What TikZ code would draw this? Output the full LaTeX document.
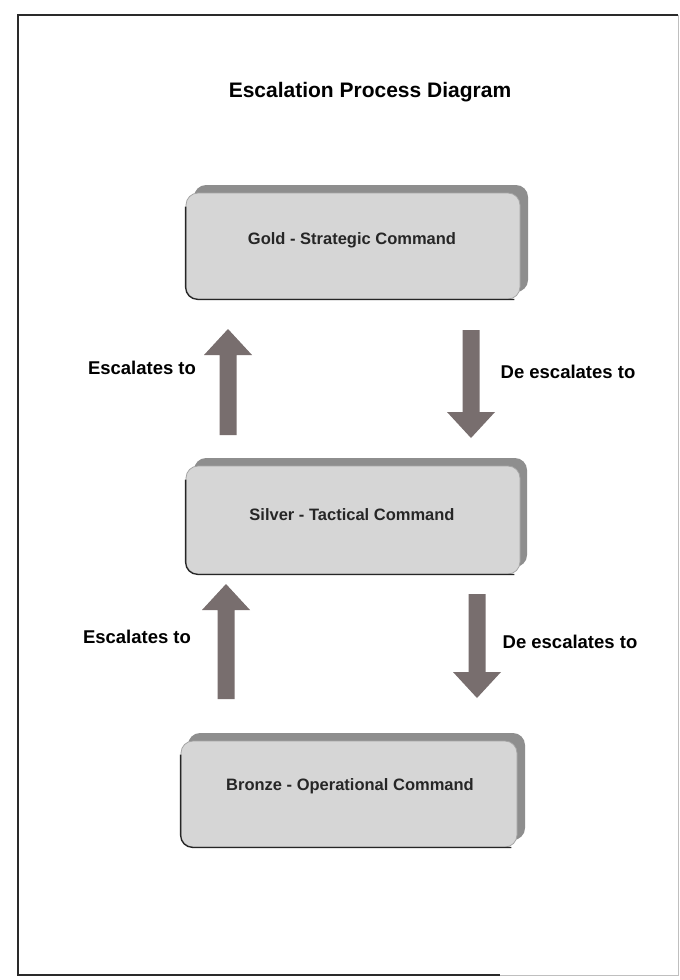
\documentclass[tikz,border=0pt]{standalone}
\usepackage{fontspec}
\setmainfont{Liberation Sans}
\usetikzlibrary{calc}
\definecolor{arrowcol}{HTML}{786E6E}
\definecolor{boxfill}{HTML}{D6D6D6}
\definecolor{boxrim}{HTML}{8E8E8E}
\definecolor{framecol}{HTML}{2A2A2A}
\tikzset{
  titletext/.style={font=\fontsize{21}{24}\selectfont\bfseries},
  boxtext/.style={font=\fontsize{16.5}{19}\selectfont\bfseries, text=black!85},
  labeltext/.style={font=\fontsize{18.5}{21}\selectfont\bfseries},
  rim/.style={fill=boxrim, rounded corners=12pt},
  cmdbox/.style={fill=boxfill, draw=boxrim!80, line width=0.8pt, rounded corners=12pt},
  edge/.style={draw=black!85, line width=1.3pt, rounded corners=12pt},
}
\newcommand\blockarrow[2]{%
  \path[fill=arrowcol] let \p1=(#1), \p2=(#2), \n1={sign(\y2-\y1)} in
    (\x1-8.5pt,\y1) -- (\x1-8.5pt,\y2-\n1*26pt) -- (\x1-24pt,\y2-\n1*26pt) --
    (\x1,\y2) -- (\x1+24pt,\y2-\n1*26pt) -- (\x1+8.5pt,\y2-\n1*26pt) --
    (\x1+8.5pt,\y1) -- cycle;}
\newcommand\lowedge[1]{%
  \draw[edge] ($(#1.north west)+(0,14)$) -- (#1.south west) -- ($(#1.south east)+(-6,0)$);}
\begin{document}
\begin{tikzpicture}[x=1pt,y=-1pt]
\useasboundingbox (0,0) rectangle (680,980);
\fill[white] (0,0) rectangle (680,980);
% frame
\draw[framecol, line width=2pt] (678,15) -- (18,15) -- (18,975) -- (500,975);
\draw[black!25, line width=1pt] (500,975) -- (678,975) -- (678,15);
% title
\node[titletext] (title) at (370,92) {Escalation Process Diagram};
% boxes
\fill[rim] (194,185) rectangle (528,292);
\node[cmdbox, minimum width=334pt, minimum height=106pt, inner sep=0pt] (gold) at (353,246) {};
\lowedge{gold}
\node[boxtext] (goldt) at (352,240) {Gold - Strategic Command};
\fill[rim] (194,458) rectangle (527,567);
\node[cmdbox, minimum width=334pt, minimum height=108pt, inner sep=0pt] (silver) at (353,520) {};
\lowedge{silver}
\node[boxtext] (silvert) at (352,515) {Silver - Tactical Command};
\fill[rim] (188,733) rectangle (525,840);
\node[cmdbox, minimum width=336pt, minimum height=106pt, inner sep=0pt] (bronze) at (349,794) {};
\lowedge{bronze}
\node[boxtext] (bronzet) at (350,786) {Bronze - Operational Command};
% arrow coordinates
\coordinate (e1b) at (228,435);
\coordinate (e1t) at (228,329);
\coordinate (d1t) at (471,330);
\coordinate (d1b) at (471,438);
\coordinate (e2b) at (226,699);
\coordinate (e2t) at (226,584);
\coordinate (d2t) at (477,594);
\coordinate (d2b) at (477,698);
\blockarrow{e1b}{e1t}
\blockarrow{d1t}{d1b}
\blockarrow{e2b}{e2t}
\blockarrow{d2t}{d2b}
% labels
\node[labeltext] (l1) at (142,368) {Escalates to};
\node[labeltext] (l2) at (568,372) {De escalates to};
\node[labeltext] (l3) at (137,637) {Escalates to};
\node[labeltext] (l4) at (570,642) {De escalates to};
\end{tikzpicture}
\end{document}
